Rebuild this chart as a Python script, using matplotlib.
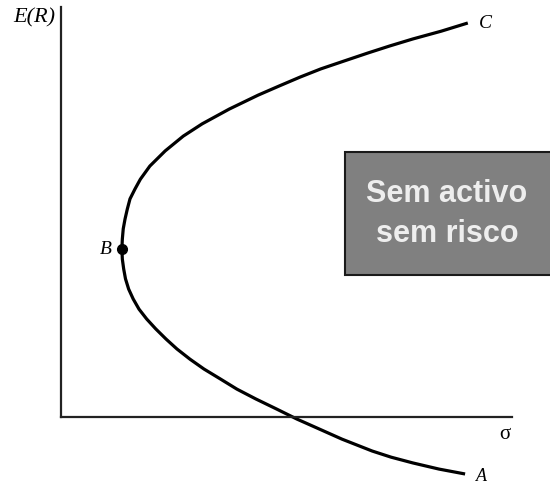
import matplotlib
matplotlib.use("Agg")
import matplotlib.pyplot as plt
from matplotlib.patches import Rectangle

# fronteira de Markowitz (sigma, E(R)), de C ate B e de B ate A
sigma = [9.02, 8.43, 7.80, 7.29, 6.81, 6.27, 5.76, 5.30, 4.83, 4.37, 3.73, 3.13,
         2.71, 2.31, 1.97, 1.76, 1.64, 1.53, 1.47, 1.42, 1.38, 1.36, 1.35,
         1.36, 1.39, 1.43, 1.50, 1.60, 1.73, 1.90, 2.10, 2.33, 2.57, 2.86, 3.17,
         3.53, 3.90, 4.32, 4.77, 5.23, 5.72, 6.23, 6.90, 7.32, 7.80, 8.38, 8.96]
retorno = [9.61, 9.41, 9.22, 9.05, 8.88, 8.68, 8.49, 8.29, 8.07, 7.85, 7.51, 7.15,
           6.85, 6.49, 6.12, 5.80, 5.56, 5.32, 5.07, 4.83, 4.59, 4.34, 4.10,
           3.85, 3.61, 3.37, 3.12, 2.88, 2.63, 2.39, 2.15, 1.90, 1.66, 1.41, 1.17,
           0.93, 0.68, 0.44, 0.20, -0.05, -0.29, -0.54, -0.83, -0.98, -1.12, -1.27, -1.39]

ponto_b = (1.35, 4.10)
rotulo_caixa = "Sem activo\nsem risco"

serif = "Liberation Serif"

fig = plt.figure(figsize=(5.5, 4.85), dpi=100)
ax = fig.add_axes([61 / 550, 67 / 485, 451 / 550, 410 / 485])

ax.plot(sigma, retorno, color="black", linewidth=2.3, clip_on=False,
        solid_capstyle="butt", solid_joinstyle="round")
ax.plot(*ponto_b, "o", color="black", markersize=7, clip_on=False)

ax.set_xlim(0, 10)
ax.set_ylim(0, 10)
for s in ["top", "right"]:
    ax.spines[s].set_visible(False)
for s in ["left", "bottom"]:
    ax.spines[s].set_linewidth(1.6)
    ax.spines[s].set_color("#222222")
ax.set_xticks([])
ax.set_yticks([])

ax.annotate("C", (sigma[0], retorno[0]), xytext=(8, 0), textcoords="offset points",
            ha="left", va="center", fontsize=14, fontstyle="italic", family=serif,
            annotation_clip=False)
ax.annotate("A", (sigma[-1], retorno[-1]), xytext=(8, -1), textcoords="offset points",
            ha="left", va="center", fontsize=13, fontstyle="italic", family=serif,
            annotation_clip=False)
ax.annotate("B", ponto_b, xytext=(-7, 0), textcoords="offset points",
            ha="right", va="center", fontsize=14, fontstyle="italic", family=serif,
            annotation_clip=False)

ax.text(-0.012, 0.975, "E(R)", transform=ax.transAxes, ha="right", va="center",
        fontsize=16, fontstyle="italic", family=serif, clip_on=False)
ax.text(0.985, -0.04, "σ", transform=ax.transAxes, ha="center", va="center",
        fontsize=15, family=serif, clip_on=False)

caixa = Rectangle((345 / 550, 209 / 485), 0.4, 123 / 485, transform=fig.transFigure,
                  facecolor="#808080", edgecolor="#1a1a1a", linewidth=1.5)
fig.add_artist(caixa)
fig.text(447 / 550, 1 - 214 / 485, rotulo_caixa, ha="center", va="center",
         multialignment="center", fontsize=22, fontweight="bold",
         family="Liberation Sans", color="#eeeeee", linespacing=1.45)

fig.savefig("out.png", dpi=100)
